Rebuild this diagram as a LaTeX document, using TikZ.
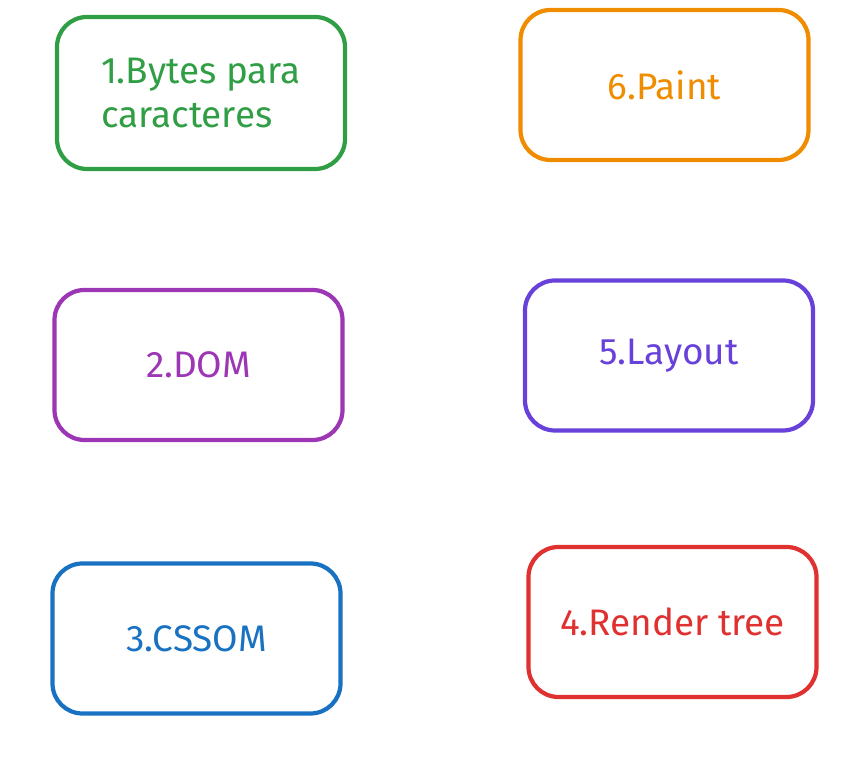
\documentclass[tikz,border=0pt]{standalone}
\usepackage{fontspec}
\setmainfont{Fira Sans}
\usetikzlibrary{positioning}
\definecolor{cgreen}{HTML}{2F9E44}
\definecolor{corange}{HTML}{F08C00}
\definecolor{cpurple}{HTML}{9C36B5}
\definecolor{cviolet}{HTML}{6741D9}
\definecolor{cblue}{HTML}{1971C2}
\definecolor{cred}{HTML}{E03131}
\tikzset{stage/.style={rectangle,rounded corners=0.3cm,draw,line width=1.2pt,minimum width=2.88cm,minimum height=1.5cm,font=\fontsize{10.5}{12.5}\selectfont}}

\begin{document}
\begin{tikzpicture}[x=1cm,y=-1cm]
        \useasboundingbox (0,0) rectangle (8.66,7.66);
		\node[stage,draw=cgreen,text=cgreen,align=left,minimum height=1.52cm] (bytes) at (2.01,0.93) {1.Bytes para\\caracteres};
        \node[stage,draw=corange,text=corange] (paint) at (6.645,0.85) {6.Paint};
        \node[stage,draw=cpurple,text=cpurple] (dom) at (1.985,3.65) {2.DOM};
        \node[stage,draw=cviolet,text=cviolet] (layout) at (6.69,3.555) {5.Layout};
        \node[stage,draw=cblue,text=cblue] (cssom) at (1.965,6.385) {3.CSSOM};
        \node[stage,draw=cred,text=cred] (render) at (6.725,6.22) {4.Render tree};
    \end{tikzpicture}
\end{document}
